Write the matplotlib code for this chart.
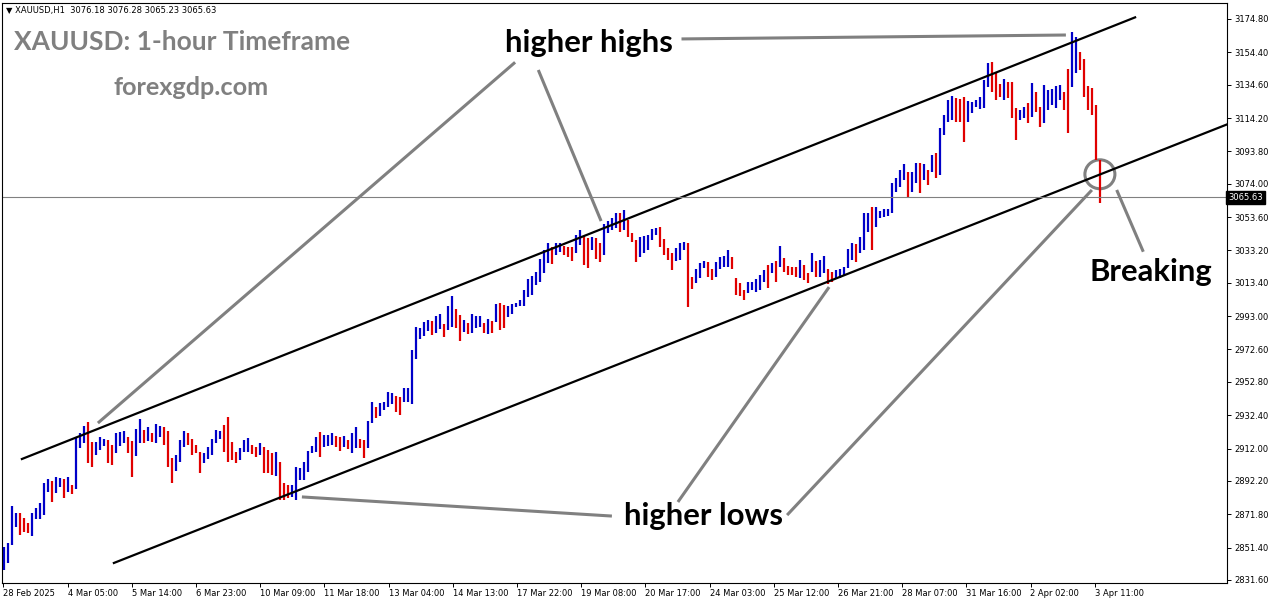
import numpy as np
import matplotlib.pyplot as plt
from matplotlib.patches import Ellipse
import matplotlib.transforms as mtransforms

# 1. DATA (2-hour bars, high / low)
highs = [
    2851.9, 2854.0, 2876.8, 2872.3, 2872.3, 2869.3, 2866.6, 2872.3, 2875.4, 2878.5,
    2890.7, 2893.4, 2892.3, 2894.8, 2893.8, 2893.1, 2894.4, 2889.7, 2918.2, 2921.3,
    2925.8, 2928.4, 2916.2, 2916.2, 2919.3, 2917.6, 2917.2, 2914.2, 2921.3, 2922.3,
    2922.7, 2919.3, 2916.8, 2923.7, 2929.9, 2923.3, 2925.4, 2921.3, 2927.0, 2925.8,
    2925.4, 2922.9, 2906.0, 2908.0, 2917.2, 2922.7, 2921.3, 2917.6, 2914.2, 2910.1,
    2909.1, 2912.7, 2917.6, 2923.3, 2922.9, 2926.4, 2931.1, 2916.2, 2910.1, 2912.1,
    2917.2, 2918.2, 2914.2, 2913.1, 2915.2, 2913.1, 2911.1, 2909.1, 2910.1, 2904.0,
    2891.1, 2889.7, 2889.7, 2900.9, 2899.9, 2904.0, 2910.7, 2913.5, 2919.3, 2922.3,
    2920.3, 2920.3, 2921.3, 2919.7, 2919.3, 2919.9, 2917.3, 2921.3, 2925.4, 2917.7,
    2917.3, 2929.1, 2940.7, 2937.6, 2939.7, 2940.7, 2946.8, 2946.2, 2944.2, 2943.8,
    2948.9, 2948.9, 2972.3, 2986.6, 2985.6, 2989.6, 2990.7, 2990.3, 2993.1, 2994.3,
    2988.2, 2999.2, 3005.3, 2997.2, 2993.7, 2990.7, 2988.6, 2994.3, 2993.1, 2993.1,
    2989.0, 2991.1, 2990.3, 3000.4, 3001.3, 2999.8, 2999.2, 3000.4, 3001.3, 3002.9,
    3009.0, 3015.5, 3017.6, 3020.2, 3027.8, 3033.5, 3038.0, 3035.5, 3038.0, 3038.0,
    3035.9, 3035.5, 3035.5, 3042.7, 3045.7, 3042.0, 3040.6, 3041.6, 3040.6, 3038.0,
    3049.4, 3051.4, 3052.8, 3056.3, 3055.9, 3058.0, 3051.8, 3044.1, 3039.6,
    3041.6, 3042.0, 3042.7, 3046.1, 3046.7, 3047.7, 3040.0, 3034.5, 3031.4, 3034.5,
    3038.0, 3038.6, 3037.6, 3017.2, 3021.7, 3025.3, 3026.9, 3026.3, 3021.7, 3026.3,
    3029.4, 3029.8, 3033.5, 3029.0, 3016.1, 3013.1, 3009.0, 3014.1, 3014.1, 3015.5,
    3018.2, 3021.2, 3024.3, 3025.3, 3026.9, 3035.9, 3028.4, 3023.7, 3022.9, 3023.3,
    3027.4, 3024.3, 3019.2, 3031.9, 3027.0, 3027.4, 3029.8, 3021.7, 3020.2, 3021.2,
    3021.7, 3022.9, 3033.9, 3037.6, 3037.2, 3041.6, 3055.9, 3056.3, 3060.0, 3060.0,
    3057.5, 3058.4, 3058.4,
    3074.3, 3077.3, 3082.4, 3086.1, 3081.4, 3081.4, 3086.5, 3086.9, 3086.1, 3082.4,
    3091.6, 3093.0, 3107.9, 3116.1, 3125.3, 3127.7, 3126.3, 3125.7, 3126.9, 3124.9,
    3124.2, 3125.3, 3126.9, 3137.5, 3147.7, 3148.7, 3142.6, 3135.1, 3137.9, 3136.5,
    3136.5, 3120.2, 3119.1, 3121.2, 3123.2, 3135.9, 3130.4, 3121.2, 3134.4, 3131.4,
    3131.8, 3133.8, 3134.4, 3130.4, 3144.0, 3167.1, 3164.0, 3154.8, 3150.1, 3133.8,
    3132.4, 3122.2, 3088.6,
]
lows = [
    2837.7, 2841.7, 2853.0, 2864.2, 2859.1, 2861.1, 2860.1, 2858.5, 2868.7, 2868.7,
    2871.3, 2885.6, 2879.5, 2884.6, 2888.7, 2881.5, 2885.6, 2884.2, 2887.0, 2912.1,
    2915.2, 2902.9, 2900.9, 2908.0, 2911.1, 2913.5, 2902.9, 2901.9, 2909.1, 2913.5,
    2915.6, 2909.1, 2894.4, 2907.4, 2915.2, 2915.2, 2916.8, 2916.2, 2915.6, 2919.3,
    2914.2, 2900.9, 2890.7, 2898.5, 2903.9, 2913.1, 2914.2, 2908.0, 2909.1, 2896.8,
    2902.9, 2905.4, 2908.0, 2915.6, 2917.6, 2910.1, 2903.9, 2905.0, 2902.9, 2905.0,
    2910.1, 2910.1, 2908.7, 2907.0, 2908.0, 2897.2, 2896.8, 2895.8, 2895.2, 2880.5,
    2880.5, 2881.5, 2882.5, 2880.5, 2892.7, 2892.7, 2897.8, 2909.1, 2910.1, 2906.6,
    2913.2, 2913.6, 2914.2, 2913.2, 2910.7, 2912.8, 2911.5, 2909.5, 2912.1, 2912.1,
    2906.0, 2912.1, 2927.9, 2930.5, 2931.9, 2935.6, 2937.2, 2939.3, 2934.6, 2932.5,
    2940.7, 2940.7, 2939.3, 2966.6, 2978.8, 2980.9, 2984.1, 2981.7, 2982.9, 2984.9,
    2980.5, 2984.5, 2986.6, 2985.6, 2978.0, 2983.5, 2982.0, 2982.9, 2985.6, 2986.6,
    2982.5, 2982.0, 2982.5, 2989.6, 2984.5, 2985.6, 2992.7, 2994.3, 2998.4, 2999.2,
    2999.2, 3004.5, 3005.9, 3012.1, 3014.1, 3019.2, 3025.7, 3024.9, 3030.4, 3032.5,
    3030.4, 3029.0, 3027.0, 3031.4, 3036.5, 3024.3, 3022.3, 3033.5, 3027.8, 3026.3,
    3030.4, 3044.1, 3045.7, 3046.7, 3044.7, 3045.7, 3041.6, 3038.6, 3026.3,
    3029.4, 3031.4, 3033.5, 3039.6, 3042.7, 3035.5, 3030.4, 3027.4, 3021.2, 3027.0,
    3027.4, 3033.5, 2998.8, 3009.4, 3013.1, 3016.1, 3022.3, 3017.2, 3015.1, 3017.2,
    3021.7, 3022.9, 3022.9, 3021.7, 3006.0, 3005.3, 3002.9, 3007.0, 3009.0, 3008.0,
    3009.0, 3014.1, 3010.0, 3019.2, 3014.1, 3023.3, 3020.2, 3018.2, 3018.2, 3016.8,
    3016.1, 3015.1, 3013.5, 3020.2, 3017.2, 3016.8, 3019.2, 3012.7, 3014.1, 3015.5,
    3016.1, 3018.2, 3022.3, 3027.4, 3026.3, 3031.4, 3033.5, 3044.7, 3033.5, 3047.7,
    3052.9, 3053.9, 3054.3,
    3055.9, 3069.2, 3072.2, 3076.3, 3066.1, 3069.2, 3074.3, 3068.2, 3076.3, 3073.3,
    3081.4, 3077.3, 3079.4, 3103.9, 3112.0, 3113.0, 3112.0, 3112.0, 3099.8, 3112.0,
    3117.1, 3120.8, 3119.6, 3120.2, 3133.4, 3130.4, 3125.3, 3126.9, 3125.3, 3126.3,
    3114.0, 3100.8, 3113.0, 3114.0, 3111.0, 3115.1, 3118.1, 3108.9, 3111.0, 3119.1,
    3122.2, 3120.2, 3125.3, 3119.1, 3104.9, 3133.4, 3141.6, 3143.6, 3127.3, 3119.1,
    3116.1, 3088.6, 3062.1,
]

date_labels = [
    "28 Feb 2025", "4 Mar 05:00", "5 Mar 14:00", "6 Mar 23:00", "10 Mar 09:00",
    "11 Mar 18:00", "13 Mar 04:00", "14 Mar 13:00", "17 Mar 22:00", "19 Mar 08:00",
    "20 Mar 17:00", "24 Mar 03:00", "25 Mar 12:00", "26 Mar 21:00", "28 Mar 07:00",
    "31 Mar 16:00", "2 Apr 02:00", "3 Apr 11:00",
]
price_ticks = [3174.80, 3154.40, 3134.60, 3114.20, 3093.80, 3074.00, 3053.60, 3033.20, 3013.40,
               2993.00, 2972.60, 2952.80, 2932.40, 2912.00, 2892.20, 2871.80, 2851.40, 2831.60]

last_price = 3065.63
header = "\u25bc XAUUSD,H1  3076.18 3076.28 3065.23 3065.63"

# channel lines drawn on the chart (slot, price)
upper_channel = [(4.4, 2905.6), (282.7, 3175.8)]
lower_channel = [(27.4, 2842.0), (306.4, 3111.0)]

# 2. FIGURE
fig = plt.figure(figsize=(12.76, 6.04), dpi=100)
ax = fig.add_axes([2 / 1276, 21.5 / 604, 1225 / 1276, 580 / 604])

x = np.arange(len(highs))
highs = np.array(highs)
lows = np.array(lows)
mid = (highs + lows) / 2
up = np.concatenate([[True], mid[1:] >= mid[:-1]])
colors = np.where(up, "#0000c8", "#e00000")

ax.vlines(x, lows, highs, colors=colors, linewidth=1.6)

for line in [upper_channel, lower_channel]:
    ax.plot([line[0][0], line[1][0]], [line[0][1], line[1][1]], color="black", lw=1.6)

ax.axhline(last_price, color="#808080", lw=0.8)

# annotations
gray = "#808080"
ann_lines = [
    [(127.7, 3148.3), (23.4, 2927.6)],
    [(133.5, 3143.6), (149.2, 3051.2)],
    [(169.3, 3162.6), (265.4, 3165.0)],
    [(151.9, 2870.7), (74.4, 2882.4)],
    [(168.4, 2879.3), (206.2, 3010.8)],
    [(195.7, 2871.3), (271.9, 3070.2)],
    [(278.1, 3070.2), (284.75, 3032.4)],
]
for a, b in ann_lines:
    ax.plot([a[0], b[0]], [a[1], b[1]], color=gray, lw=2.2, solid_capstyle="butt")

ax.add_patch(Ellipse((273.9, 3079.8), 7.5, 17.7, fill=False, edgecolor=gray, lw=2.2))

big = dict(family="Lato", fontweight="bold", color="black", fontsize=22.3, ha="center", va="center")
ax.text(146.2, 3160.1, "higher highs", **big)
ax.text(174.9, 2870.7, "higher lows", **big)
ax.text(286.7, 3020.0, "Breaking", **big)

ax.text(0.0098, 0.932, "XAUUSD: 1-hour Timeframe", transform=ax.transAxes, family="Lato",
        fontweight="bold", fontsize=19, color=gray, ha="left", va="center")
ax.text(0.1547, 0.854, "forexgdp.com", transform=ax.transAxes, family="Lato",
        fontweight="bold", fontsize=18.2, color=gray, ha="center", va="center")
ax.text(0.003, 0.987, header, transform=ax.transAxes, fontsize=6, color="black",
        ha="left", va="center")

# 3. AXES
ax.set_xlim(-0.575, 305.675)
ax.set_ylim(2830.05, 3184.89)

tick_pos = -0.25 + 16.05 * np.arange(len(date_labels))
ax.set_xticks(tick_pos)
ax.set_xticklabels(date_labels, ha="left", fontsize=6)
ax.yaxis.tick_right()
ax.set_yticks(price_ticks)
ax.set_yticklabels([f"{p:.2f}" for p in price_ticks], fontsize=6)
ax.tick_params(axis="both", length=3, width=0.7, pad=2, colors="black")
for s in ax.spines.values():
    s.set_linewidth(0.8)

trans = mtransforms.blended_transform_factory(ax.transAxes, ax.transData)
ax.text(1.0008, last_price, f"{last_price:.2f}", transform=trans, fontsize=6, color="white",
        ha="left", va="center",
        bbox=dict(boxstyle="square,pad=0.25", facecolor="black", edgecolor="black"))

fig.savefig("out.png", dpi=100)
